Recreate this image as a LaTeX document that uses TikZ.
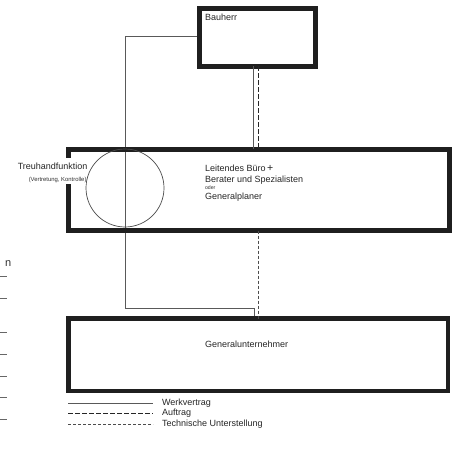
\documentclass[tikz,border=0pt]{standalone}
\usepackage{fontspec}
\setmainfont{Liberation Sans}
\begin{document}
\begin{tikzpicture}[x=1pt,y=-1pt,
  thickbox/.style={draw=black!88, line width=4.8pt, rectangle, inner sep=0pt, outer sep=0pt},
  thinline/.style={draw=black!65, line width=0.7pt},
  auftrag/.style={draw=black!85, line width=1pt, dash pattern=on 4.5pt off 2.5pt},
  technisch/.style={draw=black!70, line width=0.6pt, dash pattern=on 3pt off 2pt},
  lbl/.style={font=\fontsize{9}{10}\selectfont, text=black!85, inner sep=0pt, outer sep=0pt},
  small/.style={font=\fontsize{5.2}{6}\selectfont, text=black!80, inner sep=0pt, outer sep=0pt},
  edgemark/.style={draw=black!60, line width=0.6pt}]
\useasboundingbox (0,0) rectangle (454,457);
\fill[white] (0,0) rectangle (454,457);

% connectors (drawn first, boxes on top)
\coordinate (wA) at (199.5,36.7);
\coordinate (wB) at (125,36.7);
\coordinate (wC) at (125,308);
\coordinate (wD) at (254,308);
\coordinate (wE) at (254,316.5);
\draw[thinline] (wA) -- (wB) -- (wC) -- (wD) -- (wE);

% boxes
\node[thickbox, minimum width=116pt, minimum height=58pt] (bau) at (257.5,37.5) {};
\node[thickbox, minimum width=381pt, minimum height=81pt] (buero) at (259,190) {};
\node[thickbox, minimum width=379.5pt, minimum height=72.5pt] (gu) at (258.25,354.75) {};

% circle
\node[draw=black!70, line width=0.7pt, circle, minimum size=78pt, inner sep=0pt] (treu) at (125,188) {};

% vertical connectors between boxes
\draw[thinline] (bau.south -| 253.3,0) -- (buero.north -| 253.3,0);
\draw[auftrag] (bau.south -| 258.3,0) -- (buero.north -| 258.3,0);
\draw[technisch] (buero.south -| 258.3,0) -- (gu.north -| 258.3,0);

% texts
\node[lbl, anchor=base west] (tbau) at (205,20.5) {Bauherr};
\node[lbl, anchor=base west] (t1) at (205,171.5) {Leitendes Büro\,\raisebox{0.2pt}{\fontsize{10.5}{10}\selectfont +}};
\node[lbl, anchor=base west] (t2) at (205,182) {Berater und Spezialisten};
\node[small, anchor=base west] (t3) at (205,189.5) {oder};
\node[lbl, anchor=base west] (t4) at (205,199.5) {Generalplaner};

% Treuhand label with white ground, interrupting the box edge
\fill[white] (60,158.5) rectangle (86,184);
\node[lbl, anchor=base east] (tt1) at (87.5,169.5) {Treuhandfunktion};
\node[small, anchor=base east, font=\fontsize{5.9}{7}\selectfont] (tt2) at (86.5,181) {(Vertretung, Kontrolle)};
\node[lbl, anchor=base west] (tgu) at (205,347.5) {Generalunternehmer};

% legend
\coordinate (l1a) at (68,403); \coordinate (l1b) at (153,403);
\coordinate (l2a) at (68,413.5); \coordinate (l2b) at (153,413.5);
\coordinate (l3a) at (68,424); \coordinate (l3b) at (153,424);
\draw[thinline] (l1a) -- (l1b);
\draw[auftrag] (l2a) -- (l2b);
\draw[technisch] (l3a) -- (l3b);
\node[lbl, anchor=base west] (lg1) at (162,405.5) {Werkvertrag};
\node[lbl, anchor=base west] (lg2) at (162,415.5) {Auftrag};
\node[lbl, anchor=base west] (lg3) at (162,426) {Technische Unterstellung};

% left margin remnants
\node[font=\fontsize{11}{12}\selectfont, text=black!80, inner sep=0pt, anchor=base west] (mn) at (5,266) {n};
\foreach \yy [count=\i] in {276,298,332,354,376,397,419}
  \draw[edgemark] (0,\yy) -- (7,\yy);
\end{tikzpicture}
\end{document}
